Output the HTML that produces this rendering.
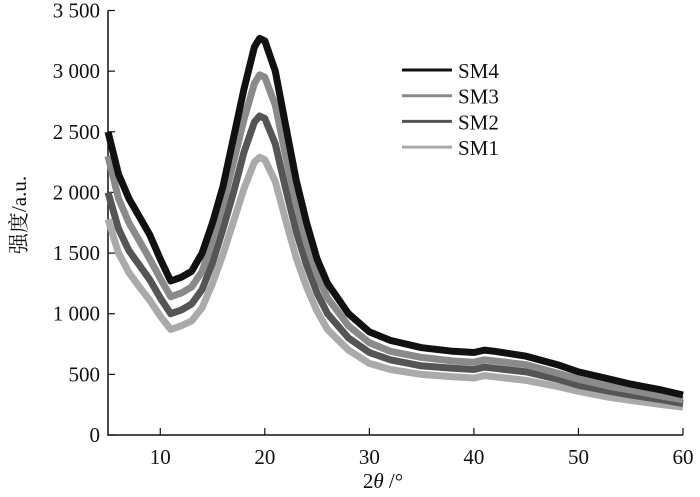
<!DOCTYPE html>
<html><head><meta charset="utf-8"><style>
body{margin:0;background:#fff}
svg text{font-family:"Liberation Serif","Noto Serif CJK SC",serif;fill:#111}
</style></head><body>
<svg id="chart" width="700" height="492">
<g id="axes"></g><g id="series"></g><g id="legend"></g>
</svg>
<script>
const xValues=[5,6,7,8,9,10,11,12,13,14,15,16,17,18,19,19.5,20,21,22,23,24,25,26,28,30,32,35,38,40,41,42,45,48,50,53,55,58,60];
const sm4=[2500,2150,1950,1800,1650,1450,1270,1300,1350,1500,1750,2050,2450,2850,3200,3270,3250,3000,2550,2100,1750,1450,1250,1000,850,780,720,690,680,700,690,650,580,520,460,420,370,330];
const sm3=[2300,1950,1750,1600,1450,1290,1140,1170,1220,1350,1600,1900,2250,2600,2900,2970,2950,2720,2300,1900,1580,1320,1130,900,760,690,640,610,600,620,610,580,510,460,400,370,320,290];
const sm2=[2000,1700,1520,1400,1280,1130,1000,1030,1080,1200,1420,1700,2000,2330,2580,2630,2610,2400,2030,1680,1400,1170,1000,800,680,620,570,550,540,560,550,520,460,410,360,330,290,260];
const sm1=[1780,1500,1340,1220,1110,980,870,900,940,1050,1250,1490,1760,2030,2250,2290,2270,2090,1770,1460,1220,1020,870,700,590,540,500,480,470,490,480,450,400,360,310,285,250,230];
const seriesNames=["SM4","SM3","SM2","SM1"];
const seriesColors=["#111","#8a8a8a","#555","#aaa"];
const seriesData=[sm4,sm3,sm2,sm1];
const xTicks=[10,20,30,40,50,60];
const yTicks=[0,500,1000,1500,2000,2500,3000,3500];
const yTickLabels=["0","500","1 000","1 500","2 000","2 500","3 000","3 500"];
const NS="http://www.w3.org/2000/svg";
const X=v=>108+(v-5)*(575/55);
const Y=v=>435-v*(424.5/3500);
function mk(tag,attrs,parent){const e=document.createElementNS(NS,tag);for(const k in attrs)e.setAttribute(k,attrs[k]);parent.appendChild(e);return e;}
const axes=document.getElementById('axes');
let ax=mk('path',{d:`M108 ${Y(3500)} V435 H${X(60)}`,fill:'none',stroke:'#111','stroke-width':1.5},axes);


yTicks.forEach((t,i)=>{
 const l=mk('line',{x1:108,x2:115,y1:Y(t),y2:Y(t),stroke:'#111','stroke-width':1.2},axes);
 
 
 const tx=mk('text',{x:100,y:Y(t)+7,'text-anchor':'end','font-size':21},axes);
 tx.textContent=yTickLabels[i];
 
 
});
xTicks.forEach(t=>{
 const l=mk('line',{x1:X(t),x2:X(t),y1:435,y2:428,stroke:'#111','stroke-width':1.2},axes);
 
 
 const tx=mk('text',{x:X(t),y:464,'text-anchor':'middle','font-size':21},axes);
 tx.textContent=t;
 
 
});
const xt=mk('text',{x:383,y:488,'text-anchor':'middle','font-size':21},axes);
xt.innerHTML='2<tspan font-style="italic">θ</tspan> /°';


const yt=mk('text',{x:0,y:0,'text-anchor':'middle','font-size':21,transform:'translate(26,215) rotate(-90)'},axes);
yt.textContent='强度/a.u.';


const sg=document.getElementById('series');
for(let s=3;s>=0;s--){
 const d=xValues.map((x,i)=>(i?'L':'M')+X(x).toFixed(1)+' '+Y(seriesData[s][i]).toFixed(1)).join(' ');
 const p=mk('path',{d:d,fill:'none',stroke:seriesColors[s],'stroke-width':7,'stroke-linejoin':'round'},sg);
 
 
}
const lg=document.getElementById('legend');
seriesNames.forEach((n,i)=>{
 const y=70+i*25.7;
 const l=mk('line',{x1:402,x2:452,y1:y,y2:y,stroke:seriesColors[i],'stroke-width':3},lg);
 
 
 const t=mk('text',{x:458,y:y+8,'font-size':21},lg);
 t.textContent=n;
 
 
});
</script>
</body></html>
